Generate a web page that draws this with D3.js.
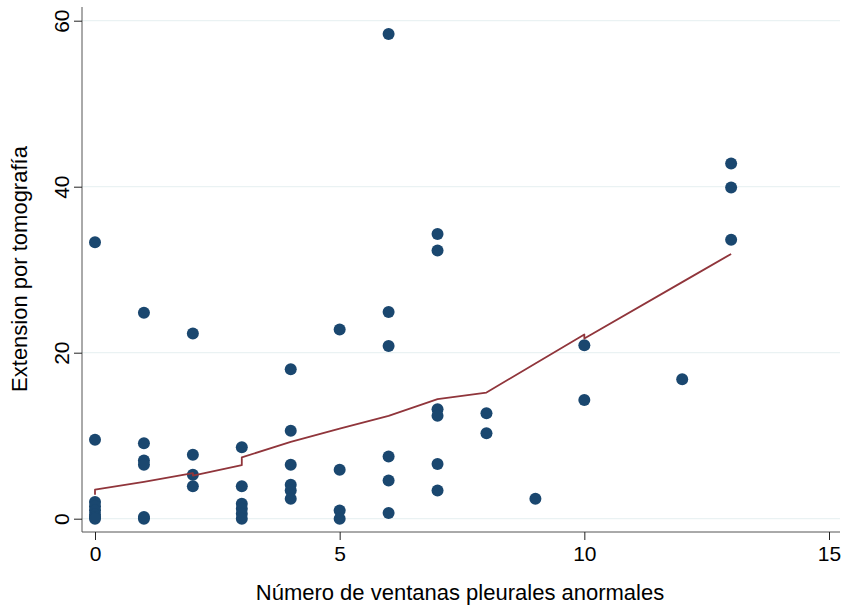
<!DOCTYPE html>
<html>
<head>
<meta charset="utf-8">
<script src="https://cdn.jsdelivr.net/npm/d3@7"></script>
<style>
  body { margin: 0; background: #fff; }
  text { font-family: "Liberation Sans", Arial, sans-serif; fill: #000; }
</style>
</head>
<body>
<div id="vis"></div>
<script>
// observations, one row per patient (x = windows, y = extension)
var ventanas = [0, 0, 0, 0, 0, 0, 0, 0,
  1, 1, 1, 1, 1, 1,
  2, 2, 2, 2,
  3, 3, 3, 3, 3, 3,
  4, 4, 4, 4, 4, 4,
  5, 5, 5, 5,
  6, 6, 6, 6, 6, 6,
  7, 7, 7, 7, 7, 7,
  8, 8,
  9,
  10, 10,
  12,
  13, 13, 13];
var extension = [33.3, 9.5, 2.0, 1.5, 1.0, 0.5, 0.2, 0,
  24.8, 9.1, 7.0, 6.5, 0.2, 0,
  22.3, 7.7, 5.3, 3.9,
  8.6, 3.9, 1.8, 1.2, 0.6, 0,
  18.0, 10.6, 6.5, 4.1, 3.4, 2.4,
  22.8, 5.9, 1.0, 0,
  58.4, 24.9, 20.8, 7.5, 4.6, 0.7,
  34.3, 32.3, 13.2, 12.4, 6.6, 3.4,
  12.7, 10.3,
  2.4,
  20.9, 14.3,
  16.8,
  42.8, 39.9, 33.6];

// lowess smooth
var lowessX = [0, 0, 1, 2, 2, 3, 3, 4, 5, 6, 7, 8, 9, 10, 10, 12, 13];
var lowessY = [2.9, 3.5, 4.45, 5.5, 5.2, 6.45, 7.4, 9.25, 10.85, 12.4, 14.4, 15.2, 18.7, 22.2, 21.7, 28.5, 31.9];

var xTicks = [0, 5, 10, 15];
var yTicks = [0, 20, 40, 60];

var width = 844, height = 608;
var margin = { top: 7, left: 82, bottom: 76, right: 4 };

var svg = d3.select('#vis').append('svg')
  .attr('width', width)
  .attr('height', height);

var x = d3.scaleLinear().domain([0, 15]).range([95, 829]);
var y = d3.scaleLinear().domain([0, 60]).range([518.7, 20.7]);

// gridlines
svg.append('g')
  .selectAll('line')
  .data(yTicks)
  .enter().append('line')
  .attr('x1', margin.left)
  .attr('x2', width - margin.right)
  .attr('y1', function(d) { return y(d); })
  .attr('y2', function(d) { return y(d); })
  .attr('stroke', '#eaf2f3')
  .attr('stroke-width', 1.2);

// y axis
var yAxis = svg.append('g')
  .attr('transform', 'translate(' + margin.left + ',0)')
  .call(d3.axisLeft(y).tickValues(yTicks).tickSize(8).tickPadding(10));
yAxis.select('.domain')
  .attr('d', 'M0,' + margin.top + 'V' + (height - margin.bottom))
  .attr('stroke', '#555');
yAxis.selectAll('.tick line').attr('stroke', '#222');
yAxis.selectAll('.tick text')
  .attr('font-size', 21)
  .attr('transform', 'translate(-13,0) rotate(-90)')
  .attr('x', 0)
  .attr('y', 0)
  .attr('dy', '0')
  .attr('text-anchor', 'middle')
  .attr('font-family', '"Liberation Sans", Arial, sans-serif');

// x axis
var xAxis = svg.append('g')
  .attr('transform', 'translate(0,' + (height - margin.bottom) + ')')
  .call(d3.axisBottom(x).tickValues(xTicks).tickSize(8).tickPadding(6));
xAxis.select('.domain')
  .attr('d', 'M' + margin.left + ',0H' + (width - margin.right))
  .attr('stroke', '#555');
xAxis.selectAll('.tick line').attr('stroke', '#222');
xAxis.selectAll('.tick text')
  .attr('font-size', 21)
  .attr('font-family', '"Liberation Sans", Arial, sans-serif');

// axis titles
svg.append('text')
  .attr('x', 460)
  .attr('y', 600)
  .attr('text-anchor', 'middle')
  .attr('font-size', 22)
  .text('Número de ventanas pleurales anormales');

svg.append('text')
  .attr('transform', 'translate(27,269) rotate(-90)')
  .attr('text-anchor', 'middle')
  .attr('font-size', 22)
  .text('Extension por tomografía');

// points
var pts = d3.range(ventanas.length);
svg.append('g')
  .selectAll('circle')
  .data(pts)
  .enter().append('circle')
  .attr('cx', function(i) { return x(ventanas[i]); })
  .attr('cy', function(i) { return y(extension[i]); })
  .attr('r', 6)
  .attr('fill', '#1a476f');

// lowess line
var line = d3.line()
  .x(function(i) { return x(lowessX[i]); })
  .y(function(i) { return y(lowessY[i]); });

svg.append('path')
  .datum(d3.range(lowessX.length))
  .attr('fill', 'none')
  .attr('stroke', '#90353b')
  .attr('stroke-width', 1.8)
  .attr('stroke-linejoin', 'round')
  .attr('d', line);
</script>
</body>
</html>
